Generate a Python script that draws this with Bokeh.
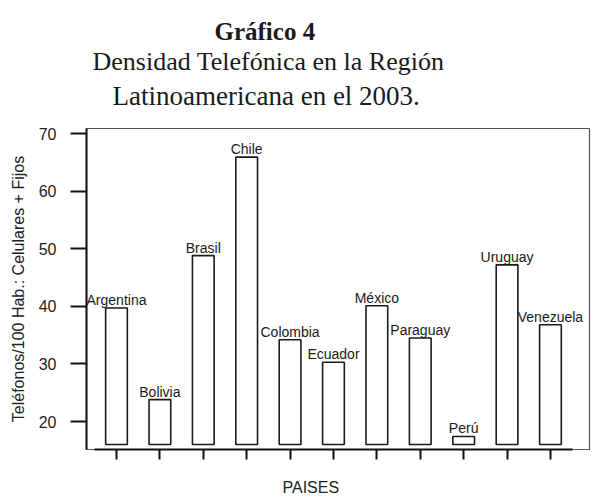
from bokeh.plotting import figure
from bokeh.models import Range1d, FixedTicker, ColumnDataSource, Title
from bokeh.core.properties import value
from bokeh.embed import file_html
from bokeh.resources import INLINE

# ---- data ----
paises = ["Argentina", "Bolivia", "Brasil", "Chile", "Colombia", "Ecuador",
          "México", "Paraguay", "Perú", "Uruguay", "Venezuela"]
densidad = [39.7, 23.8, 48.8, 65.9, 34.2, 30.3, 40.1, 34.5, 17.4, 47.2, 36.8]
base = 16.0
y_ticks = [20, 30, 40, 50, 60, 70]

titulo1 = "Gráfico 4"
titulo2 = "Densidad Telefónica en la Región"
titulo3 = "Latinoamericana en el 2003."
y_label = "Teléfonos/100 Hab.: Celulares + Fijos"
x_label = "PAISES"

idx = list(range(len(paises)))
src = ColumnDataSource(dict(x=idx, top=densidad, name=paises))

p = figure(width=595, height=496, output_backend="svg", toolbar_location=None,
           x_range=Range1d(-0.691, 10.9), y_range=Range1d(15.14, 70.87),
           min_border_left=86, min_border_right=6, min_border_top=128,
           min_border_bottom=47)
p.title_location = None
p.background_fill_color = "white"
p.border_fill_color = "white"
p.outline_line_color = "#555555"
p.outline_line_width = 1.2
p.xgrid.visible = False
p.ygrid.visible = False

p.vbar(x="x", top="top", bottom=base, width=0.5, source=src,
       fill_color="white", line_color="#1a1a1a", line_width=1.6)

p.text(x="x", y="top", text="name", source=src, text_align="center",
       text_baseline="alphabetic", y_offset=-8,
       text_font=value("Liberation Sans"), text_font_size="14px",
       text_color="#1a1a1a")

# y axis
yax = p.yaxis[0]
yax.ticker = FixedTicker(ticks=y_ticks)
yax.minor_tick_line_color = None
yax.major_tick_in = 0
yax.major_tick_out = 16
yax.major_tick_line_width = 2
yax.major_tick_line_color = "#111111"
yax.axis_line_width = 2
yax.axis_line_color = "#111111"
yax.major_label_standoff = 14
yax.major_label_text_font = "Liberation Sans"
yax.major_label_text_font_size = "16px"
yax.major_label_text_color = "#222222"
yax.axis_label = y_label
yax.axis_label_standoff = 9
yax.axis_label_text_font = "Liberation Sans"
yax.axis_label_text_font_size = "16px"
yax.axis_label_text_font_style = "normal"
yax.axis_label_text_color = "#222222"

# x axis
xax = p.xaxis[0]
xax.ticker = FixedTicker(ticks=idx)
xax.major_label_overrides = {i: "" for i in idx}
xax.minor_tick_line_color = None
xax.major_tick_in = 0
xax.major_tick_out = 10
xax.major_tick_line_width = 2
xax.major_tick_line_color = "#111111"
xax.axis_line_width = 2
xax.axis_line_color = "#111111"
xax.bounds = (-0.5, len(paises) - 0.5)


def make_title(text, offset, font, size, style, color, pad_top=0, pad_bottom=0):
    kw = dict(text=text, align="left", offset=offset, standoff=0,
              text_font=font, text_font_size=size,
              text_font_style=style, text_color=color)
    try:
        return Title(padding=dict(left=0, right=0, top=pad_top, bottom=pad_bottom), **kw)
    except Exception:
        kw["standoff"] = 2 * (pad_top + pad_bottom)
        return Title(**kw)


# titles (first added sits closest to the frame)
p.add_layout(make_title(titulo3, 26, "Liberation Serif", "27px", "normal", "#1a1a1a",
                        pad_bottom=18), "above")
p.add_layout(make_title(titulo2, 6, "Liberation Serif", "26px", "normal", "#1a1a1a",
                        pad_bottom=3), "above")
p.add_layout(make_title(titulo1, 128, "Liberation Serif", "25px", "bold", "#1a1a1a"),
             "above")
p.add_layout(make_title(x_label, 196, "Liberation Sans", "16px", "normal", "#222222",
                        pad_top=17), "below")

open("out.html", "w").write(file_html(p, INLINE))
